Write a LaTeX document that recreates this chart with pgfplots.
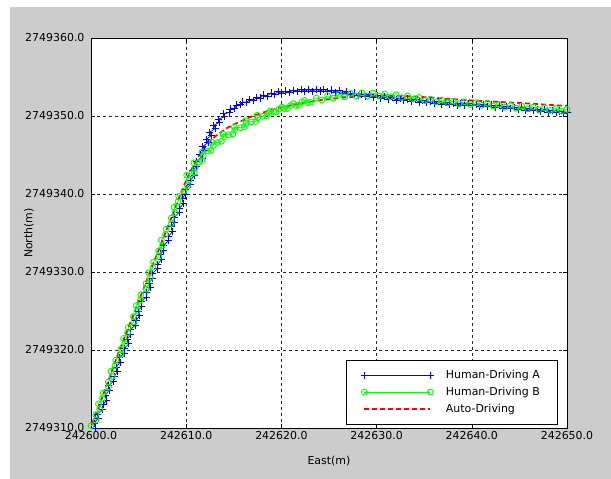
\documentclass[border=0pt]{standalone}
\usepackage{fontspec}
\setmainfont{DejaVu Sans}
\usepackage{pgfplots}
\pgfplotsset{compat=1.18}
\definecolor{figgray}{HTML}{CCCCCC}
\begin{document}
\begin{tikzpicture}
\fill[white] (0bp,0bp) rectangle (611bp,479bp);
\fill[figgray] (10bp,0bp) rectangle (611bp,472bp);
\begin{axis}[
  at={(91bp,51bp)}, anchor=south west,
  scale only axis, width=476bp, height=390bp,
  xmin=0, xmax=50, ymin=0, ymax=50,
  axis background/.style={fill=white},
  axis line style={black, line width=0.8bp},
  xtick={0,10,20,30,40,50},
  ytick={0,10,20,30,40,50},
  xticklabels={242600.0,242610.0,242620.0,242630.0,242640.0,242650.0},
  yticklabels={2749310.0,2749320.0,2749330.0,2749340.0,2749350.0,2749360.0},
  /pgf/number format/assume math mode=true,
  tick label style={font=\fontsize{11}{13}\selectfont},
  label style={font=\fontsize{11}{13}\selectfont},
  tick align=inside, major tick length=4bp,
  tick style={black, line width=0.6bp},
  grid=major,
  major grid style={black!85, line width=0.6bp, dash pattern=on 3bp off 3bp},
  yticklabel style={xshift=-3bp},
  xlabel={East(m)}, ylabel={North(m)},
  xlabel style={at={(axis description cs:0.5,0)}, anchor=center, yshift=-33bp},
  ylabel style={at={(axis description cs:0,0.5)}, anchor=center, yshift=62bp},
  legend cell align=left,
  legend style={font=\fontsize{11}{13}\selectfont,
    at={(axis description cs:1,0)}, anchor=south east, xshift=-10bp, yshift=4bp,
    inner xsep=15bp, inner ysep=8bp, row sep=3bp,
    /tikz/every odd column/.append style={column sep=10bp}},
  legend image code/.code={
    \draw[#1] (0bp,0bp) -- (66bp,0bp);
    \draw[#1] plot[only marks] coordinates {(0bp,0bp) (66bp,0bp)};
  },
]
% Human-Driving A
\addplot[color=blue, line width=0.7bp, mark=+, mark size=3.6bp, mark options={solid, line width=0.8bp}] coordinates {
(0.50,0.0) (0.34,0.6) (0.73,1.2) (0.68,1.8) (1.22,2.4) (1.26,3.0) (1.65,3.6) (1.49,4.2)
(1.89,4.8) (1.83,5.4) (2.37,6.0) (2.41,6.6) (2.80,7.2) (2.65,7.8) (3.04,8.4) (2.98,9.0)
(3.52,9.6) (3.56,10.2) (3.96,10.8) (3.80,11.4) (4.19,12.0) (4.13,12.6) (4.67,13.2) (4.72,13.8)
(5.11,14.4) (4.95,15.0) (5.34,15.6) (5.28,16.2) (5.83,16.8) (5.87,17.4) (6.26,18.0) (6.10,18.6)
(6.49,19.2) (6.44,19.8) (6.98,20.4) (7.02,21.0) (7.41,21.6) (7.25,22.2) (7.65,22.8) (7.59,23.4)
(8.13,24.0) (8.17,24.6) (8.56,25.2) (8.41,25.8) (8.80,26.4) (8.74,27.0) (9.28,27.6) (9.32,28.2)
(9.72,28.8) (9.56,29.4) (9.95,30.0) (9.89,30.6) (10.43,31.2) (10.48,31.8) (10.87,32.4) (10.71,33.0)
(11.10,33.6) (11.04,34.2)
(11.70,34.6) (11.45,35.1) (11.95,35.6) (11.75,36.1) (12.30,36.6) (12.10,37.0) (12.65,37.5) (12.45,37.9)
(13.05,38.4) (12.90,38.8) (13.50,39.2) (13.40,39.6) (14.00,39.9) (13.95,40.3) (14.55,40.5) (14.60,40.9)
(15.10,41.0) (15.25,41.4) (15.70,41.45) (15.95,41.8) (16.35,41.75) (16.65,42.1) (17.05,42.0) (17.40,42.4)
(17.75,42.3) (18.15,42.7) (18.50,42.55) (18.90,42.95) (19.25,42.75) (19.65,43.1) (20.05,42.9) (20.45,43.2)
(20.85,43.05) (21.25,43.3) (21.65,43.1)
(22.05,43.40) (22.45,43.16) (22.85,43.42) (23.25,43.18) (23.65,43.44) (24.05,43.20) (24.45,43.41) (24.85,43.12)
(25.25,43.33) (25.65,43.04) (26.05,43.24) (26.45,42.92) (26.85,43.10) (27.25,42.78) (27.65,42.96) (28.05,42.64)
(28.45,42.83) (28.85,42.52) (29.25,42.71) (29.65,42.40) (30.05,42.59) (30.45,42.28) (30.85,42.47) (31.25,42.16)
(31.65,42.35) (32.05,42.05) (32.45,42.26) (32.85,41.97) (33.25,42.18) (33.65,41.89) (34.05,42.09) (34.45,41.79)
(34.85,41.99) (35.25,41.69) (35.65,41.89) (36.05,41.60) (36.45,41.81) (36.85,41.52) (37.25,41.73) (37.65,41.44)
(38.05,41.65) (38.45,41.38) (38.85,41.61) (39.25,41.34) (39.65,41.57) (40.05,41.30) (40.45,41.52) (40.85,41.24)
(41.25,41.46) (41.65,41.18) (42.05,41.40) (42.45,41.11) (42.85,41.32) (43.25,41.03) (43.65,41.24) (44.05,40.94)
(44.45,41.14) (44.85,40.84) (45.25,41.04) (45.65,40.74) (46.05,40.95) (46.45,40.66) (46.85,40.87) (47.25,40.58)
(47.65,40.79) (48.05,40.50) (48.45,40.71) (48.85,40.42) (49.25,40.63) (49.65,40.34) (50.00,40.50)
};
\addlegendentry{Human-Driving A}
% Human-Driving B
\addplot[color=green, line width=0.7bp, mark=o, mark size=2.9bp, mark options={solid, line width=0.9bp}] coordinates {
(0.00,0.3) (0.52,1.0) (0.49,1.7) (0.91,2.4) (0.78,3.1) (1.20,3.8) (1.27,4.5) (1.84,5.2)
(1.81,5.9) (2.23,6.6) (2.10,7.3) (2.52,8.0) (2.59,8.7) (3.16,9.4) (3.13,10.1) (3.55,10.8)
(3.42,11.5) (3.84,12.2) (3.91,12.9) (4.48,13.6) (4.45,14.3) (4.88,15.0) (4.75,15.7) (5.17,16.4)
(5.24,17.1) (5.81,17.8) (5.78,18.5) (6.20,19.2) (6.07,19.9) (6.49,20.6) (6.56,21.3) (7.13,22.0)
(7.10,22.7) (7.52,23.4) (7.39,24.1) (7.81,24.8) (7.88,25.5) (8.45,26.2) (8.42,26.9) (8.84,27.6)
(8.72,28.3) (9.14,29.0) (9.21,29.7) (9.78,30.4)
(10.15,31.05) (10.30,31.8) (10.05,32.4) (10.55,32.6) (10.85,32.75) (10.95,33.4) (10.80,34.0) (11.35,34.1)
(11.65,34.25) (11.80,34.9) (11.65,35.4) (12.25,35.5) (12.60,35.6) (12.85,36.2) (12.70,36.65) (13.30,36.6)
(13.70,36.75) (13.95,37.3) (13.85,37.7) (14.45,37.6) (14.90,37.7) (15.10,38.2) (15.05,38.6) (15.70,38.5)
(16.10,38.6) (16.30,39.05) (16.25,39.4) (16.85,39.25) (17.30,39.3) (17.50,39.75) (17.45,40.1) (18.05,39.95)
(18.45,40.0) (18.65,40.4) (18.85,40.65) (19.20,40.5) (19.45,40.5) (19.75,40.9) (20.05,41.15) (20.35,40.95)
(20.65,40.95) (20.95,41.35) (21.25,41.6) (21.55,41.35) (21.85,41.4) (22.15,41.8) (22.45,42.0) (22.75,41.7)
(23.05,41.75) (23.65,42.3) (24.25,42.05) (24.85,42.6) (25.45,42.3) (26.05,42.78) (26.65,42.45) (27.25,42.9)
(27.85,42.55) (28.45,42.97) (29.05,42.57) (29.65,42.95)
(30.25,42.57) (30.85,42.83) (31.45,42.48) (32.05,42.72) (32.65,42.35) (33.25,42.58) (33.85,42.18) (34.45,42.38)
(35.05,41.98) (35.65,42.18) (36.25,41.82) (36.85,42.07) (37.45,41.68) (38.05,41.92) (38.65,41.57) (39.25,41.82)
(39.85,41.47) (40.45,41.72) (41.05,41.37) (41.65,41.62) (42.25,41.27) (42.85,41.47) (43.45,41.12) (44.05,41.37)
(44.65,41.02) (45.25,41.27) (45.85,40.92) (46.45,41.17) (47.05,40.82) (47.65,41.07) (48.25,40.72) (48.85,40.97)
(49.45,40.62) (50.00,40.85)
};
\addlegendentry{Human-Driving B}
% Auto-Driving
\addplot[color=red, line width=1.7bp, dash pattern=on 5bp off 3bp, smooth] coordinates {
(0.1,0.5) (1.5,5) (3.0,10) (4.6,15) (6.2,20) (7.8,25) (9.4,30) (10.1,32) (10.75,33.6)
(11.4,35.0) (12.0,36.0) (12.7,37.0) (13.5,37.8) (14.5,38.6) (15.7,39.3) (17.0,40.0) (18.5,40.6)
(20.0,41.1) (22.0,41.6) (24.0,42.0) (26.5,42.35) (29.0,42.55) (31.5,42.6) (34.0,42.5)
(37.0,42.25) (40.0,42.0) (43.0,41.8) (46.0,41.6) (48.5,41.4) (50.0,41.3)
};
\addlegendentry{Auto-Driving}
\end{axis}
\pgfresetboundingbox
\useasboundingbox (0bp,0bp) rectangle (611bp,479bp);
\end{tikzpicture}
\end{document}
